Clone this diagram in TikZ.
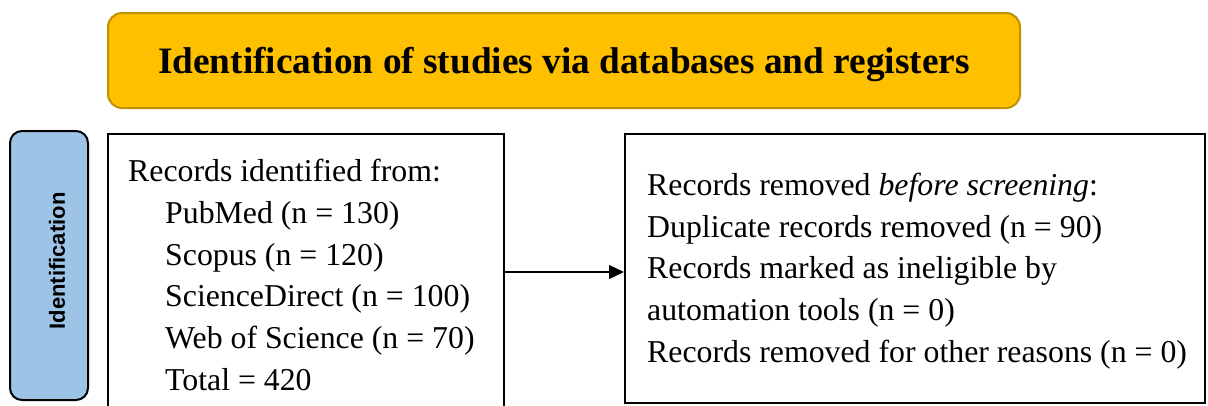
\documentclass[tikz,border=0pt]{standalone}
\usepackage{fontspec}
\setmainfont{Liberation Serif}
\setsansfont{Liberation Sans}
\usepackage{tikz}
\usetikzlibrary{arrows.meta}

\definecolor{headyellow}{HTML}{FFC000}
\definecolor{headedge}{HTML}{BF9000}
\definecolor{sideblue}{HTML}{9DC3E6}

\tikzset{
  headbox/.style={draw=headedge, fill=headyellow, line width=2pt, rounded corners=14pt,
    minimum width=912pt, minimum height=95pt, inner sep=0pt},
  headtext/.style={inner sep=0pt, font=\bfseries\fontsize{37.3}{44}\selectfont},
  sidebox/.style={draw=black, fill=sideblue, line width=2pt, rounded corners=12pt,
    minimum width=78pt, minimum height=269pt, inner sep=0pt},
  sidelabel/.style={inner sep=0pt, font=\sffamily\bfseries\fontsize{22}{26}\selectfont},
  recbox/.style={draw=black, line width=2pt, inner sep=0pt},
  rectext/.style={inner sep=0pt, align=left, anchor=west,
    font=\fontsize{31.8}{41.8}\selectfont},
  arrowline/.style={line width=1.3pt, -{Triangle[length=15pt,width=14pt]}}
}

\begin{document}
\begin{tikzpicture}[x=1pt,y=-1pt]
    \useasboundingbox (0,0) rectangle (1208,405);

    % Header
    \node[headbox] (head) at (564,60.5) {};
    \node[headtext] (headlabel) at (564,64) {Identification of studies via databases and registers};

    % Side label
    \node[sidebox] (idbox) at (49,265.5) {};
    \node[sidelabel, rotate=90] (idlabel) at ([xshift=8pt, yshift=4.5pt]idbox.center) {Identification};

    % Boxes
    \node[recbox, minimum width=396pt, minimum height=278pt] (records) at (306,273) {};
    \node[recbox, minimum width=580pt, minimum height=269pt] (removed) at (915,268.5) {};

    % Box texts
    \node[rectext] (recordstext) at (128,275) {%
      Records identified from:\\
      \hspace*{37pt}PubMed (n = 130)\\
      \hspace*{37pt}Scopus (n = 120)\\
      \hspace*{37pt}ScienceDirect (n = 100)\\
      \hspace*{37pt}Web of Science (n = 70)\\
      \hspace*{37pt}Total = 420};
    \node[rectext] (removedtext) at (647,271) {%
      Records removed \textit{before screening}:\\
      Duplicate records removed (n = 90)\\
      Records marked as ineligible by\\
      automation tools (n = 0)\\
      Records removed for other reasons (n = 0)};

    % Arrow
    \draw[arrowline] ([yshift=1pt]records.east) -- ([yshift=1pt]records.east -| removed.west);
\end{tikzpicture}
\end{document}
